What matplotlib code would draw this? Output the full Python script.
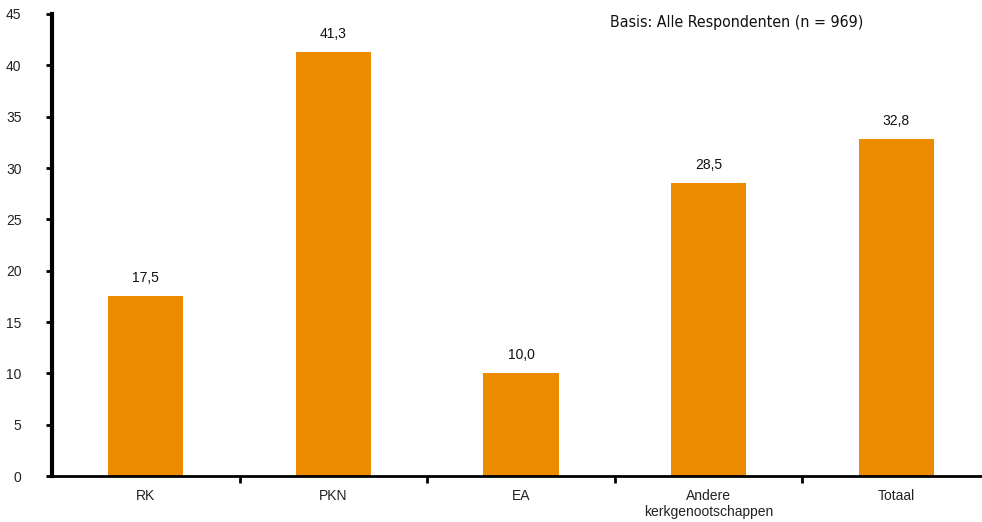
import matplotlib
matplotlib.use("Agg")
import matplotlib.pyplot as plt
from matplotlib import font_manager as fm

categories = ["RK", "PKN", "EA", "Andere\nkerkgenootschappen", "Totaal"]
values = [17.5, 41.3, 10.0, 28.5, 32.8]
value_labels = ["17,5", "41,3", "10,0", "28,5", "32,8"]
yticks = [0, 5, 10, 15, 20, 25, 30, 35, 40, 45]
note = "Basis: Alle Respondenten (n = 969)"

plt.rcParams['font.family'] = ['Liberation Sans', 'DejaVu Sans']

cands = [f.fname for f in fm.fontManager.ttflist
         if any(k in f.fname.lower() for k in ("narrow", "condensed"))
         and "bold" not in f.fname.lower() and "oblique" not in f.fname.lower()
         and "italic" not in f.fname.lower()]
pref = sorted(cands, key=lambda p: (0 if "liberation" in p.lower() else 1 if "dejavusans" in p.lower().replace("-", "") else 2, p))

W, H = 982, 522
fig = plt.figure(figsize=(W / 100, H / 100), dpi=100)
left, right, top, bottom = 52, 990, 14, 476
ax = fig.add_axes([left / W, 1 - bottom / H, (right - left) / W, (bottom - top) / H])

x = list(range(len(categories)))
ax.bar(x, values, width=0.4, color="#EC8B00", zorder=2)
for xi, v, lab in zip(x, values, value_labels):
    ax.annotate(lab, (xi, v), xytext=(0, 8), textcoords="offset points",
                ha="center", va="bottom", fontsize=10, color="#111111")

ax.set_xlim(-0.5, len(categories) - 0.5)
ax.set_ylim(0, 45)
ax.set_yticks(yticks)
ax.set_yticklabels([str(t) for t in yticks], fontsize=10, color="#222222")
ax.tick_params(axis="y", direction="out", length=4, width=2, pad=18)

ax.set_xticks([i + 0.5 for i in range(len(categories) - 1)])
ax.set_xticklabels([])
ax.tick_params(axis="x", direction="out", length=5, width=2)
ax.set_xticks(x, minor=True)
ax.set_xticklabels(categories, minor=True, fontsize=10, color="#222222")
ax.tick_params(axis="x", which="minor", length=0, pad=9)

for s in ["top", "right"]:
    ax.spines[s].set_visible(False)
ax.spines["left"].set_linewidth(3)
ax.spines["bottom"].set_linewidth(2)

if pref:
    fp = fm.FontProperties(fname=pref[0], size=14)
    t = fig.text(610 / W, 1 - 22 / H, note, fontproperties=fp,
                 ha="left", va="center", color="#111111")
else:
    t = fig.text(610 / W, 1 - 22 / H, note, fontsize=12,
                 ha="left", va="center", color="#111111")
# fit the note to the reference width (610..866 px)
fig.canvas.draw()
bb = t.get_window_extent()
target = 256
if bb.width > 0:
    t.set_fontsize(t.get_fontsize() * min(1.0, target / bb.width) if not pref else t.get_fontsize() * target / bb.width)

fig.savefig("out.png", dpi=100)
